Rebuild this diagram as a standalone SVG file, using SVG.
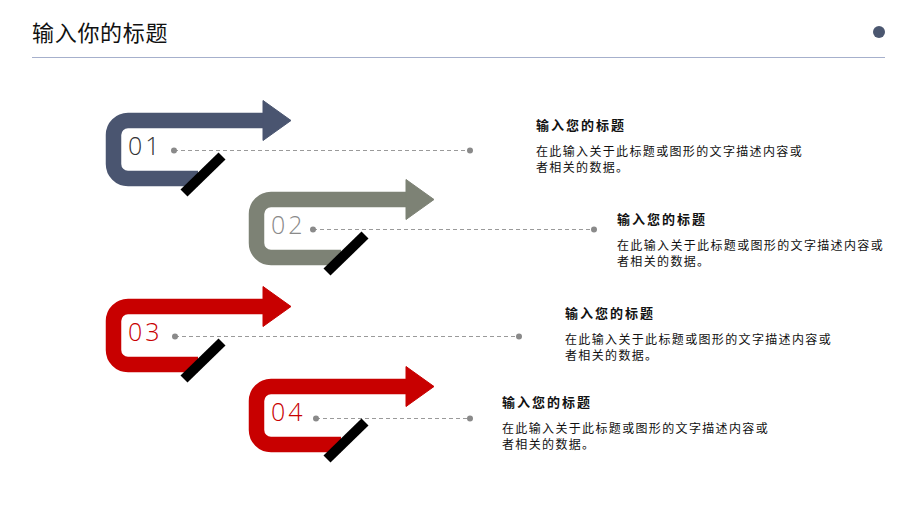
<svg xmlns="http://www.w3.org/2000/svg" width="920" height="518" viewBox="0 0 920 518">
<defs>
<style>
.band{fill:none;stroke-width:15.5;stroke-linejoin:round}
.bar{stroke:#000;stroke-width:10}
.num{font-family:"Open Sans","Liberation Sans",sans-serif;font-weight:300;font-size:25px;letter-spacing:3px}
.dash{stroke:#9a9a9a;stroke-width:1.2;stroke-dasharray:4 3}
.dot{fill:#8a8a8a}
.ttl{font-family:"Noto Sans CJK SC",sans-serif;font-size:13px;font-weight:bold;letter-spacing:2px;fill:#111}
.body{font-family:"Noto Sans CJK SC",sans-serif;font-size:12px;letter-spacing:1.35px;fill:#111}
</style>
<g id="shape">
<path class="band" d="M198,178.5 H128 A14.5,14.5 0 0 1 113.5,164 V135 A14.5,14.5 0 0 1 128,120.5 H265"/>
<polygon points="263,100.5 291,120.5 263,140.5"/>
</g>
</defs>
<g id="header">
<text x="32" y="41" font-family="Noto Sans CJK SC, sans-serif" font-size="22" letter-spacing="0.7" fill="#111">输入你的标题</text>
<line x1="32" y1="57.5" x2="885" y2="57.5" stroke="#a6b0cc" stroke-width="1.2"/>
<circle cx="879" cy="32" r="6" fill="#4b5770"/>
</g>
<g id="connectors">
<line class="dash" x1="174" y1="150.5" x2="470" y2="150.5"/>
<circle class="dot" cx="174" cy="150.5" r="3"/><circle class="dot" cx="470" cy="150.5" r="3"/>
<line class="dash" x1="313" y1="229.5" x2="594" y2="229.5"/>
<circle class="dot" cx="313" cy="229.5" r="3"/><circle class="dot" cx="594" cy="229.5" r="3"/>
<line class="dash" x1="175" y1="336.5" x2="519" y2="336.5"/>
<circle class="dot" cx="175" cy="336.5" r="3"/><circle class="dot" cx="519" cy="336.5" r="3"/>
<line class="dash" x1="316" y1="418.5" x2="470" y2="418.5"/>
<circle class="dot" cx="316" cy="418.5" r="3"/><circle class="dot" cx="470" cy="418.5" r="3"/>
</g>
<g id="node1">
<use href="#shape" stroke="#4a5570" fill="#4a5570"/>
<text class="num" x="128" y="155" fill="#333">01</text>
<line class="bar" x1="184" y1="193" x2="222" y2="156"/>
</g>
<g id="node2" transform="translate(143,79)">
<use href="#shape" stroke="#7d8275" fill="#7d8275"/>
<text class="num" x="128" y="155" fill="#8a8a8a">02</text>
<line class="bar" x1="184" y1="193" x2="222" y2="156"/>
</g>
<g id="node3" transform="translate(0,186)">
<use href="#shape" stroke="#c80000" fill="#c80000"/>
<text class="num" x="128" y="155" fill="#c80000">03</text>
<line class="bar" x1="184" y1="193" x2="222" y2="156"/>
</g>
<g id="node4" transform="translate(143,266)">
<use href="#shape" stroke="#c80000" fill="#c80000"/>
<text class="num" x="128" y="155" fill="#c80000">04</text>
<line class="bar" x1="184" y1="193" x2="222" y2="156"/>
</g>
<g id="text1">
<text class="ttl" x="536" y="130">输入您的标题</text>
<text class="body" x="536" y="156">在此输入关于此标题或图形的文字描述内容或</text>
<text class="body" x="536" y="172">者相关的数据。</text>
</g>
<g id="text2">
<text class="ttl" x="617" y="224">输入您的标题</text>
<text class="body" x="617" y="250">在此输入关于此标题或图形的文字描述内容或</text>
<text class="body" x="617" y="266">者相关的数据。</text>
</g>
<g id="text3">
<text class="ttl" x="565" y="318">输入您的标题</text>
<text class="body" x="565" y="344">在此输入关于此标题或图形的文字描述内容或</text>
<text class="body" x="565" y="360">者相关的数据。</text>
</g>
<g id="text4">
<text class="ttl" x="502" y="407">输入您的标题</text>
<text class="body" x="502" y="433">在此输入关于此标题或图形的文字描述内容或</text>
<text class="body" x="502" y="449">者相关的数据。</text>
</g>
</svg>
